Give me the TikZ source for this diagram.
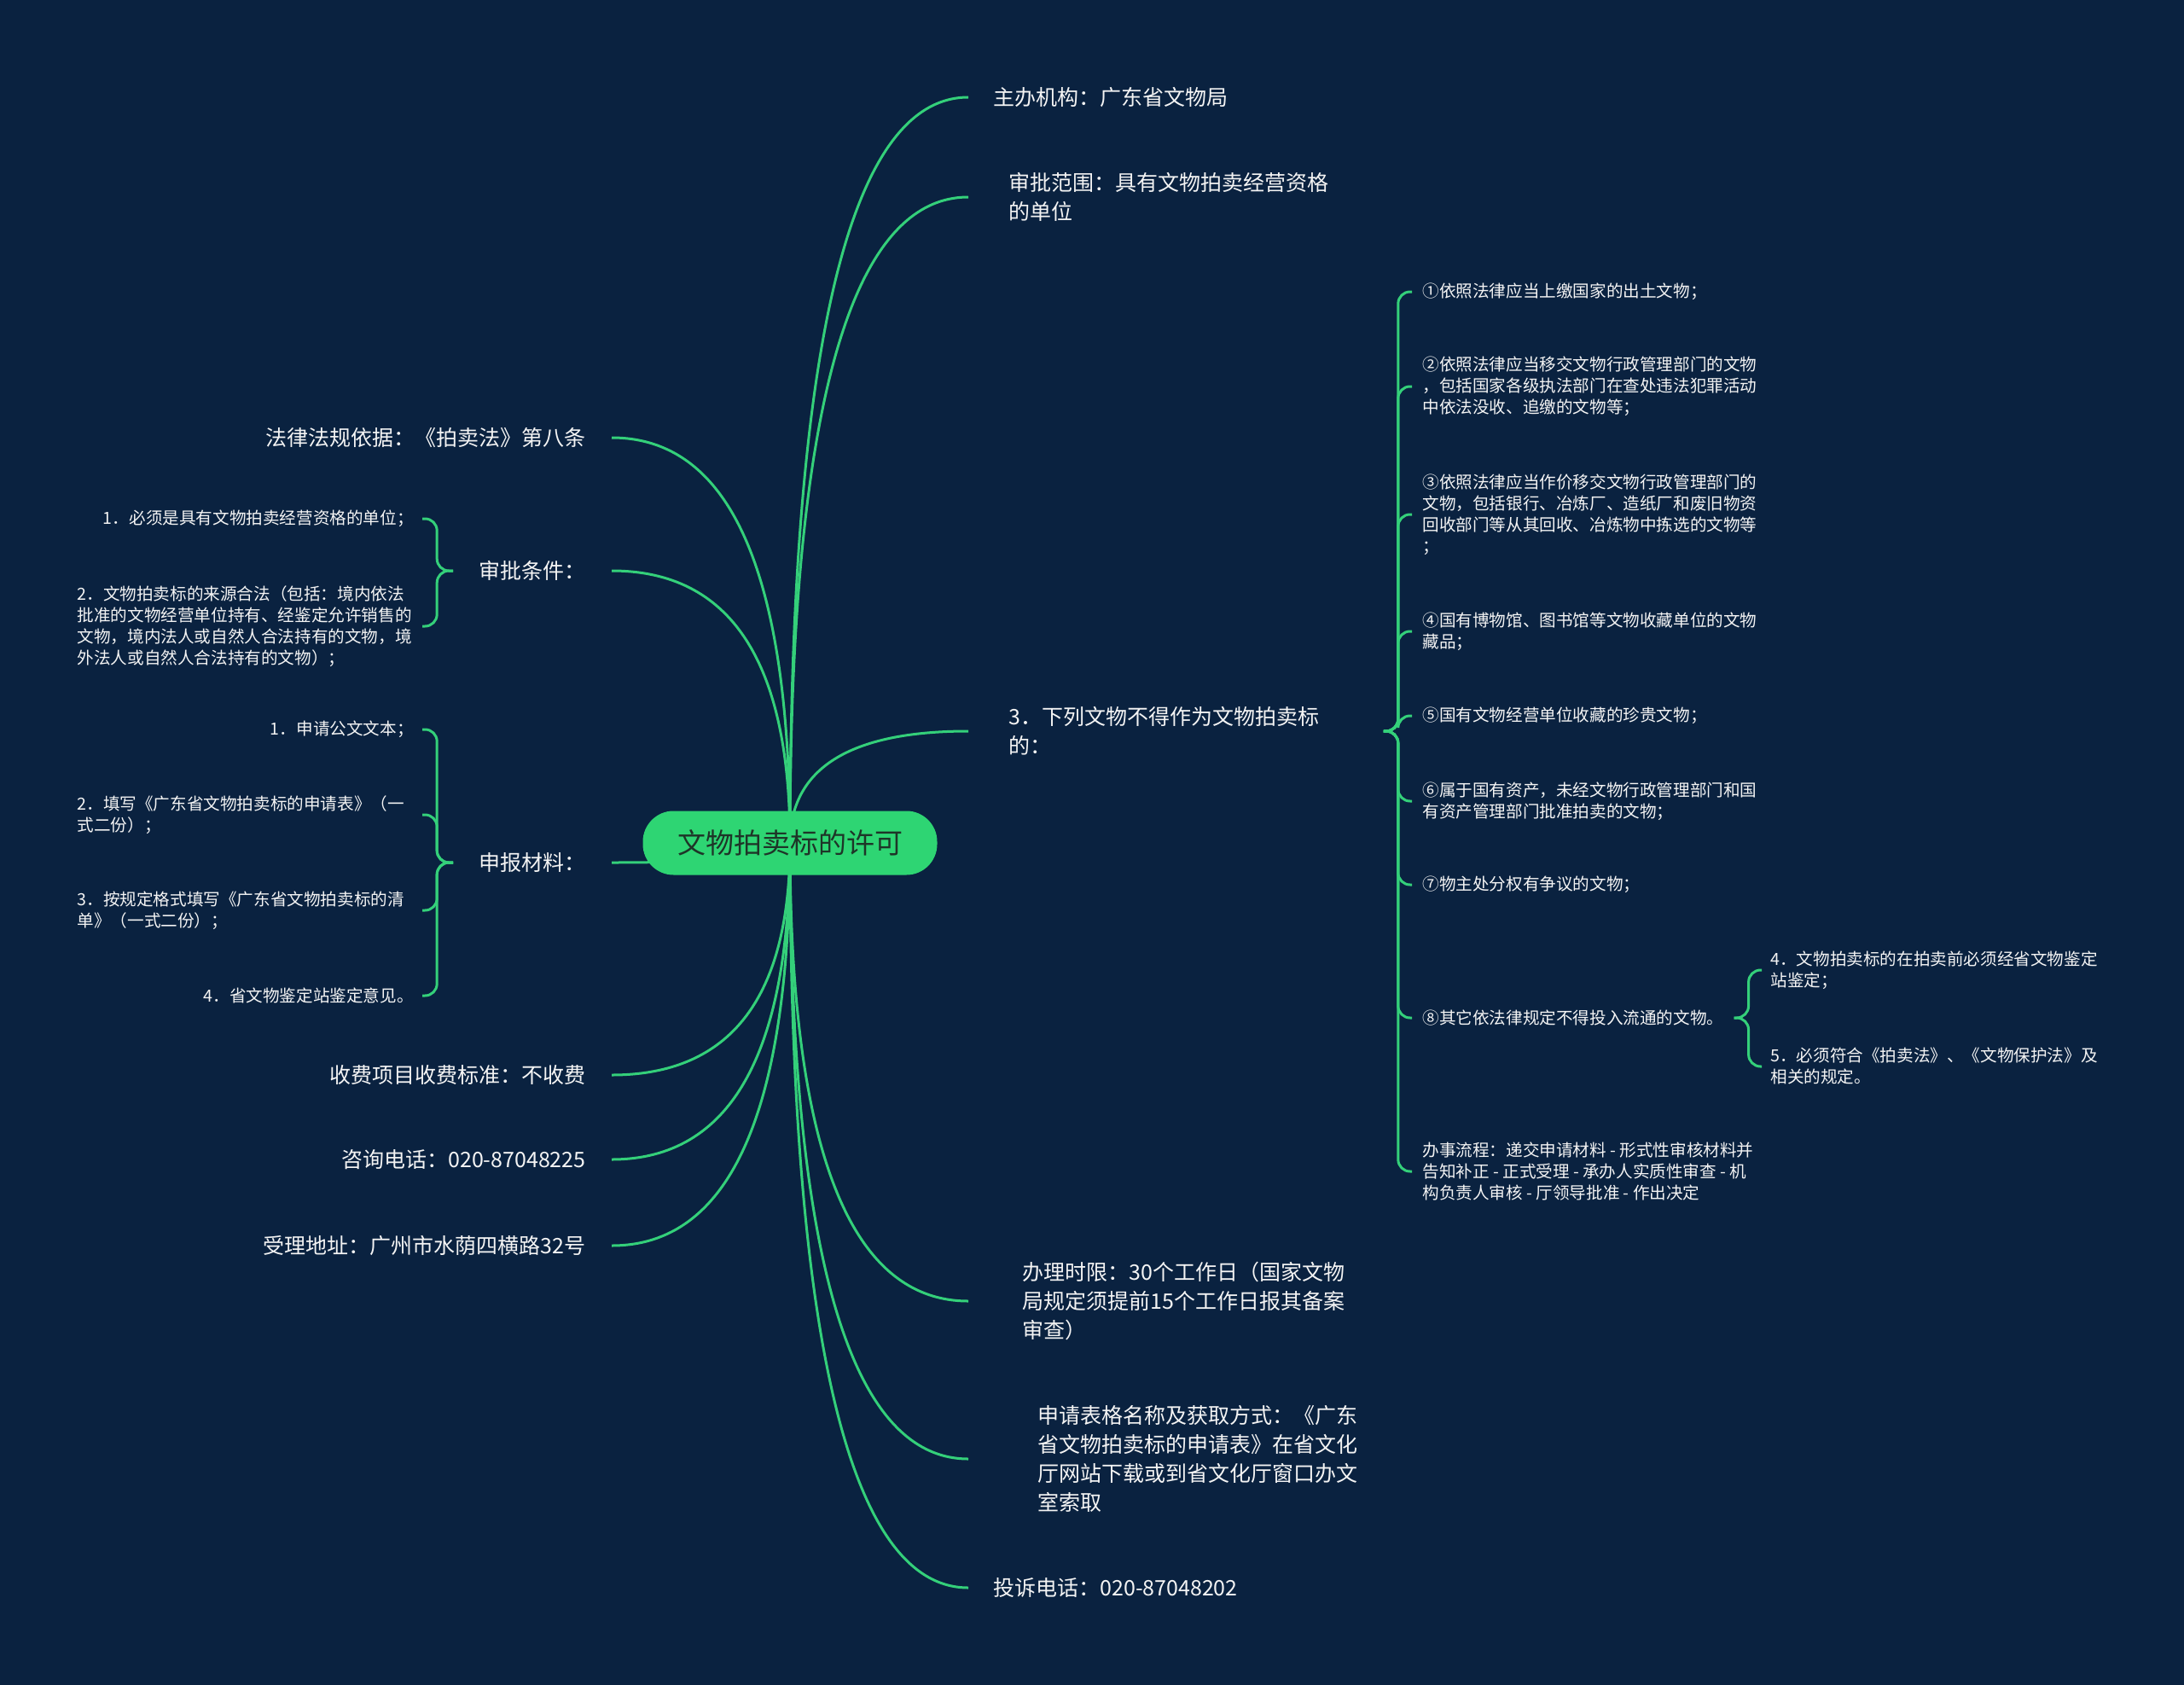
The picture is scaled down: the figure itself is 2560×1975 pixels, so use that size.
\documentclass[tikz,border=0pt]{standalone}
\usepackage{fontspec}
\setmainfont{Noto Sans CJK SC}
\usetikzlibrary{calc}
\definecolor{cbg}{HTML}{0A2240}
\definecolor{cgreen}{HTML}{34D07A}
\definecolor{croot}{HTML}{2ED573}
\definecolor{cink}{HTML}{1E3528}
\definecolor{cwhite}{HTML}{F4F4F4}
\pgfdeclarelayer{edges}
\pgfsetlayers{edges,main}
\tikzset{
  link/.style={draw=cgreen, line width=1.5pt},
  branch/.style={to path={.. controls ($(\tikztostart)!2/3!(\tikztostart |- \tikztotarget)$) and ($(\tikztotarget)!2/3!(\tikztostart |- \tikztotarget)$) .. (\tikztotarget)}},
  brace/.style={link, rounded corners=7pt},
  topic/.style={text=cwhite, font=\fontsize{12.5}{17}\selectfont, align=left, inner ysep=0pt, inner xsep=#1},
  topic/.default=15pt,
  leaf/.style={text=cwhite, font=\fontsize{9.8}{12.5}\selectfont, align=left, inner ysep=0pt, inner xsep=#1},
  leaf/.default=5pt,
}
\begin{document}
\begin{tikzpicture}[x=0.5pt, y=-0.5pt]
  \useasboundingbox (0,0) rectangle (2560,1975);
  \begin{pgfonlayer}{edges}
    \fill[cbg] (0,0) rectangle (2560,1975);
  \end{pgfonlayer}
  \node[fill=croot, text=cink, rounded corners=18pt, minimum width=172.5pt, minimum height=37.5pt,
        font=\fontsize{16.5}{20}\selectfont] (root) at (926,988) {文物拍卖标的许可};
  % right side
  \node[topic=14.5pt, anchor=west] (host) at (1135,114) {主办机构：广东省文物局};
  \node[topic=23.5pt, anchor=west] (range) at (1135,231) {审批范围：具有文物拍卖经营资格\\的单位};
  \node[topic=23.5pt, anchor=west, text width=196pt] (three) at (1135,857) {3．下列文物不得作为文物拍卖标\\的：};
  \node[topic=31.5pt, anchor=west] (limit) at (1135,1525) {办理时限：30个工作日（国家文物\\局规定须提前15个工作日报其备案\\审查）};
  \node[topic=40.5pt, anchor=west] (form) at (1135,1710) {申请表格名称及获取方式：《广东\\省文物拍卖标的申请表》在省文化\\厅网站下载或到省文化厅窗口办文\\室索取};
  \node[topic=14.5pt, anchor=west] (plaint) at (1135,1861) {投诉电话：020-87048202};
  % left side
  \node[topic, anchor=east] (law) at (717,513) {法律法规依据：《拍卖法》第八条};
  \node[topic, anchor=east] (cond) at (717,669) {审批条件：};
  \node[topic, anchor=east] (mats) at (717,1011) {申报材料：};
  \node[topic, anchor=east] (fee) at (717,1260) {收费项目收费标准：不收费};
  \node[topic, anchor=east] (tel) at (717,1359) {咨询电话：020-87048225};
  \node[topic, anchor=east] (addr) at (717,1460) {受理地址：广州市水荫四横路32号};
  % conditions
  \node[leaf, anchor=east] (c1) at (495,608) {1．必须是具有文物拍卖经营资格的单位；};
  \node[leaf, anchor=east, text width=197pt] (c2) at (495,734) {2．文物拍卖标的来源合法（包括：境内依法\\批准的文物经营单位持有、经鉴定允许销售的\\文物，境内法人或自然人合法持有的文物，境\\外法人或自然人合法持有的文物）；};
  % materials
  \node[leaf, anchor=east] (m1) at (495,855) {1．申请公文文本；};
  \node[leaf, anchor=east, text width=197pt] (m2) at (495,955) {2．填写《广东省文物拍卖标的申请表》（一\\式二份）；};
  \node[leaf, anchor=east, text width=197pt] (m3) at (495,1067) {3．按规定格式填写《广东省文物拍卖标的清\\单》（一式二份）；};
  \node[leaf, anchor=east] (m4) at (495,1167) {4．省文物鉴定站鉴定意见。};
  % items under 3.
  \node[leaf=6pt, anchor=west] (r1) at (1655,342) {①依照法律应当上缴国家的出土文物；};
  \node[leaf=6pt, anchor=west] (r2) at (1655,453) {②依照法律应当移交文物行政管理部门的文物\\，包括国家各级执法部门在查处违法犯罪活动\\中依法没收、追缴的文物等；};
  \node[leaf=6pt, anchor=west] (r3) at (1655,603) {③依照法律应当作价移交文物行政管理部门的\\文物，包括银行、冶炼厂、造纸厂和废旧物资\\回收部门等从其回收、冶炼物中拣选的文物等\\；};
  \node[leaf=6pt, anchor=west] (r4) at (1655,740) {④国有博物馆、图书馆等文物收藏单位的文物\\藏品；};
  \node[leaf=6pt, anchor=west] (r5) at (1655,839) {⑤国有文物经营单位收藏的珍贵文物；};
  \node[leaf=6pt, anchor=west] (r6) at (1655,939) {⑥属于国有资产，未经文物行政管理部门和国\\有资产管理部门批准拍卖的文物；};
  \node[leaf=6pt, anchor=west] (r7) at (1655,1037) {⑦物主处分权有争议的文物；};
  \node[leaf=6pt, anchor=west] (r8) at (1655,1193) {⑧其它依法律规定不得投入流通的文物。};
  \node[leaf=6pt, anchor=west] (r9) at (1655,1373) {办事流程：递交申请材料 - 形式性审核材料并\\告知补正 - 正式受理 - 承办人实质性审查 - 机\\构负责人审核 - 厅领导批准 - 作出决定};
  \node[leaf, anchor=west] (s1) at (2065,1137) {4．文物拍卖标的在拍卖前必须经省文物鉴定\\站鉴定；};
  \node[leaf, anchor=west] (s2) at (2065,1250) {5．必须符合《拍卖法》、《文物保护法》及\\相关的规定。};
  % connectors
  \begin{pgfonlayer}{edges}
    \foreach \v in {host, range, three, limit, form, plaint}
      \draw[link] (root.center) to[branch] (\v.west);
    \foreach \v in {law, cond, mats, fee, tel, addr}
      \draw[link] (root.center) to[branch] (\v.east);
    \foreach \v in {c1, c2} \draw[brace] (cond.west) -- ++(-19,0) |- (\v.east);
    \foreach \v in {m1, m2, m3, m4} \draw[brace] (mats.west) -- ++(-19,0) |- (\v.east);
    \foreach \v in {r1, r2, r3, r4, r5, r6, r7, r8, r9} \draw[brace] (three.east) -- ++(17,0) |- (\v.west);
    \foreach \v in {s1, s2} \draw[brace] (r8.east) -- ++(17,0) |- (\v.west);
  \end{pgfonlayer}
\end{tikzpicture}
\end{document}
